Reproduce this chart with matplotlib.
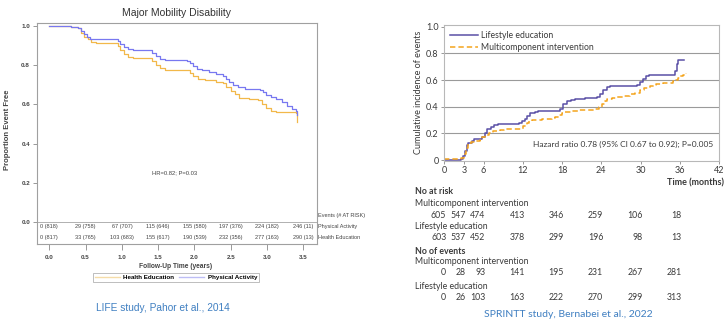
import matplotlib
matplotlib.use("Agg")
import matplotlib.pyplot as plt
import matplotlib.transforms as mtransforms

# ---- LIFE study (left) ----
life_ticks = [0.0, 0.5, 1.0, 1.5, 2.0, 2.5, 3.0, 3.5]
pa_t = [0.0, 0.12, 0.30, 0.40, 0.44, 0.48, 0.52, 0.56, 0.62, 0.90, 0.94, 0.98, 1.03, 1.08,
        1.15, 1.38, 1.42, 1.47, 1.53, 1.60, 1.90, 1.94, 1.98, 2.03, 2.10, 2.20, 2.30, 2.40,
        2.44, 2.48, 2.53, 2.60, 2.70, 2.90, 2.94, 2.98, 3.05, 3.12, 3.20, 3.28, 3.35, 3.40, 3.42]
pa_s = [1.0, 0.997, 0.995, 0.99, 0.975, 0.96, 0.945, 0.935, 0.933, 0.933, 0.92, 0.905, 0.89, 0.882,
        0.878, 0.876, 0.86, 0.845, 0.832, 0.826, 0.822, 0.81, 0.795, 0.78, 0.775, 0.765, 0.755, 0.745,
        0.73, 0.715, 0.70, 0.688, 0.68, 0.675, 0.66, 0.645, 0.638, 0.625, 0.61, 0.59, 0.575, 0.568, 0.545]
he_t = [0.0, 0.12, 0.30, 0.40, 0.44, 0.48, 0.53, 0.58, 0.65, 0.90, 0.94, 0.98, 1.03, 1.08,
        1.15, 1.38, 1.42, 1.47, 1.53, 1.60, 1.90, 1.94, 1.98, 2.05, 2.15, 2.30, 2.40, 2.44,
        2.50, 2.56, 2.62, 2.75, 2.88, 2.93, 2.98, 3.05, 3.12, 3.40, 3.42]
he_s = [1.0, 0.997, 0.995, 0.99, 0.965, 0.945, 0.93, 0.918, 0.912, 0.91, 0.895, 0.875, 0.855, 0.84,
        0.836, 0.834, 0.82, 0.80, 0.785, 0.776, 0.774, 0.76, 0.745, 0.73, 0.722, 0.715, 0.71, 0.69,
        0.665, 0.65, 0.632, 0.625, 0.62, 0.60, 0.58, 0.568, 0.558, 0.555, 0.51]
pa_risk = ["0 (818)", "29 (758)", "67 (707)", "115 (646)", "155 (580)", "197 (376)", "224 (182)", "246 (11)"]
he_risk = ["0 (817)", "33 (765)", "103 (683)", "155 (617)", "190 (539)", "232 (356)", "277 (163)", "290 (13)"]

# ---- SPRINTT study (right) ----
spr_ticks = [0, 3, 6, 12, 18, 24, 30, 36, 42]
risk_months = [0, 3, 6, 12, 18, 24, 30, 36]
le_t = [0, 1.0, 2.5, 2.9, 3.1, 3.4, 3.7, 4.2, 4.6, 5.4, 5.8, 6.2, 6.6, 7.1, 7.6, 8.2, 10.9, 11.4,
        11.9, 12.3, 12.7, 13.1, 13.8, 14.4, 17.2, 17.7, 18.2, 18.7, 19.3, 20.0, 21.5, 22.4, 23.3,
        23.8, 24.3, 24.8, 25.4, 27.0, 29.4, 29.9, 30.4, 30.9, 31.3, 34.9, 35.3, 35.6, 35.7, 36.7]
le_c = [0, 0.003, 0.008, 0.03, 0.07, 0.11, 0.13, 0.145, 0.155, 0.158, 0.175, 0.205, 0.23, 0.25,
        0.262, 0.267, 0.268, 0.275, 0.29, 0.31, 0.33, 0.35, 0.36, 0.367, 0.37, 0.385, 0.42, 0.44,
        0.45, 0.457, 0.462, 0.467, 0.475, 0.495, 0.525, 0.545, 0.553, 0.556, 0.56, 0.585, 0.61,
        0.632, 0.637, 0.637, 0.67, 0.72, 0.75, 0.75]
mi_t = [0, 2.0, 2.6, 3.0, 3.3, 3.6, 4.1, 4.8, 5.4, 5.8, 6.2, 6.8, 7.5, 8.5, 9.1, 11.6, 12.1, 12.6,
        13.0, 13.4, 15.0, 15.9, 16.5, 16.9, 17.5, 18.0, 18.4, 19.5, 20.4, 22.9, 23.6, 24.1, 24.5,
        24.9, 25.7, 26.4, 27.5, 28.4, 29.2, 29.9, 30.6, 31.4, 32.0, 32.4, 33.5, 34.4, 35.0, 35.4,
        35.8, 36.1, 36.5, 36.9]
mi_c = [0.005, 0.01, 0.017, 0.045, 0.09, 0.12, 0.135, 0.145, 0.15, 0.17, 0.19, 0.203, 0.215,
        0.225, 0.23, 0.232, 0.255, 0.275, 0.29, 0.3, 0.305, 0.308, 0.318, 0.325, 0.337, 0.355,
        0.362, 0.37, 0.375, 0.382, 0.395, 0.42, 0.445, 0.455, 0.465, 0.47, 0.48, 0.492, 0.505,
        0.523, 0.54, 0.555, 0.565, 0.57, 0.575, 0.58, 0.59, 0.6, 0.615, 0.63, 0.64, 0.65]
mi_risk = [605, 547, 474, 413, 346, 259, 106, 18]
le_risk = [603, 537, 452, 378, 299, 196, 98, 13]
mi_events = [0, 28, 93, 141, 195, 231, 267, 281]
le_events = [0, 26, 103, 163, 222, 270, 299, 313]

W, H = 726, 320
fig = plt.figure(figsize=(W / 100, H / 100), dpi=100)
caption_color = "#3f7fc1"


def fx(px):
    return px / W


def fy(py):
    return 1 - py / H


# ---------------- left panel ----------------
sans = ["Liberation Sans", "DejaVu Sans"]
ax1 = fig.add_axes([fx(37), fy(244), fx(317) - fx(37), fy(23) - fy(244)])
blue = "#7878f0"
yellow = "#f2b84a"
ax1.plot(he_t, he_s, drawstyle="steps-post", color=yellow, lw=0.9)
ax1.plot(pa_t, pa_s, drawstyle="steps-post", color=blue, lw=0.9)
ax1.axhline(0, color="#b0b0b0", lw=0.7)
ax1.set_xlim(-0.17, 3.689)
ax1.set_ylim(-0.112, 1.014)
ax1.set_yticks([0.0, 0.2, 0.4, 0.6, 0.8, 1.0])
ax1.set_yticklabels(["0.0", "0.2", "0.4", "0.6", "0.8", "1.0"], family=sans,
                    fontsize=4.5, fontweight="bold", color="#444444")
ax1.set_xticks(life_ticks)
ax1.set_xticklabels(["%.1f" % t for t in life_ticks], family=sans,
                    fontsize=4.5, fontweight="bold", color="#444444")
ax1.tick_params(axis="both", direction="out", length=3, width=0.6, color="#888888", pad=2)
ax1.tick_params(axis="x", length=4, pad=4)
for s in ax1.spines.values():
    s.set_color("#a0a0a0")
    s.set_linewidth(0.8)

for t, a, b in zip(life_ticks, pa_risk, he_risk):
    ax1.text(t, -0.024, a, ha="center", va="center", fontsize=4, color="#444444", family=sans)
    ax1.text(t, -0.078, b, ha="center", va="center", fontsize=4, color="#444444", family=sans)
tr1 = mtransforms.blended_transform_factory(ax1.transAxes, ax1.transData)
ax1.text(1.005, 0.031, "Events (# AT RISK)", transform=tr1, ha="left", va="center",
         fontsize=4, color="#444444", family=sans)
ax1.text(1.005, -0.024, "Physical Activity", transform=tr1, ha="left", va="center",
         fontsize=4, color="#444444", family=sans)
ax1.text(1.005, -0.078, "Health Education", transform=tr1, ha="left", va="center",
         fontsize=4, color="#444444", family=sans)
ax1.text(1.73, 0.25, "HR=0.82; P=0.03", ha="center", va="center", fontsize=4.2,
         color="#444444", family=sans)

fig.text(fx(177), fy(12.5), "Major Mobility Disability", ha="center", va="center",
         fontsize=7.5, color="#333333", family=sans)
fig.text(fx(8), fy(130), "Proportion Event Free", rotation=90, ha="center", va="center",
         fontsize=5.5, fontweight="bold", color="#444444", family=sans)
fig.text(fx(176), fy(266), "Follow-Up Time (years)", ha="center", va="center",
         fontsize=4.8, fontweight="bold", color="#444444", family=sans)

h1, = ax1.plot([], [], color="#f5dca8", lw=1.0)
h2, = ax1.plot([], [], color="#bdbdf5", lw=1.0)
leg = fig.legend([h1, h2], ["Health Education", "Physical Activity"], loc="center",
                 bbox_to_anchor=(fx(176), fy(277.5)), ncol=2, frameon=True, fancybox=False,
                 edgecolor="#a0a0a0", handlelength=4, handletextpad=0.6, columnspacing=0.8,
                 borderpad=0.25, prop={"family": sans, "size": 4.5, "weight": "bold"})
leg.get_frame().set_linewidth(0.6)
fig.text(fx(162.5), fy(308), "LIFE study, Pahor et al., 2014", ha="center", va="center",
         fontsize=7.3, color=caption_color, family=sans)

# ---------------- right panel ----------------
rs = ["Lato", "DejaVu Sans"]
tc = "#3a3a3a"
ax2 = fig.add_axes([fx(444.3), fy(160.7), fx(719) - fx(444.3), fy(24.7) - fy(160.7)])
purple = "#5a50a6"
orange = "#f4a41c"
ax2.plot(le_t, le_c, drawstyle="steps-post", color=purple, lw=1.1, label="Lifestyle education")
ax2.plot(mi_t, mi_c, drawstyle="steps-post", color=orange, lw=1.1, ls=(0, (3.5, 2)),
         label="Multicomponent intervention")
for g in [0.2, 0.4, 0.6, 0.8]:
    ax2.axhline(g, color="#9a9a9a", lw=0.8, zorder=0)
ax2.set_xlim(0, 42)
ax2.set_ylim(-0.005, 1.015)
ax2.set_xticks(spr_ticks)
ax2.set_xticklabels([str(t) for t in spr_ticks], family=rs, fontsize=6.5, color=tc)
ax2.set_yticks([0, 0.2, 0.4, 0.6, 0.8, 1.0])
ax2.set_yticklabels(["0", "0.2", "0.4", "0.6", "0.8", "1.0"], family=rs, fontsize=6.5, color=tc)
ax2.tick_params(axis="both", direction="out", length=2.5, width=0.6, color="#888888", pad=1.5)
for s in ax2.spines.values():
    s.set_color("#b8b8b8")
    s.set_linewidth(0.8)
ax2.legend(loc="upper left", bbox_to_anchor=(0.0, 1.0), frameon=False, handlelength=3.2,
           handletextpad=0.4, labelspacing=0.35, borderaxespad=0.3,
           prop={"family": rs, "size": 6.2}, labelcolor=tc)
ax2.text(0.98, 0.12, "Hazard ratio 0.78 (95% CI 0.67 to 0.92); P=0.005", transform=ax2.transAxes,
         ha="right", va="center", fontsize=6.0, color=tc, family=rs)
fig.text(fx(418), fy(92), "Cumulative incidence of events", rotation=90, ha="center",
         va="center", fontsize=6.5, color=tc, family=rs)
fig.text(fx(724), fy(182.7), "Time (months)", ha="right", va="center", fontsize=6.5,
         fontweight="bold", color=tc, family=rs)

tr2 = mtransforms.blended_transform_factory(ax2.transData, fig.transFigure)
rows = [
    ("No at risk", 191.7, True, None),
    ("Multicomponent intervention", 204, False, mi_risk),
    ("Lifestyle education", 226.7, False, le_risk),
    ("No of events", 251, True, None),
    ("Multicomponent intervention", 261.7, False, mi_events),
    ("Lifestyle education", 286.7, False, le_events),
]
for label, ypx, bold, vals in rows:
    fig.text(fx(415), fy(ypx), label, ha="left", va="center", fontsize=6.3, color=tc,
             fontweight="bold" if bold else "normal", family=rs)
    if vals is not None:
        for m, v in zip(risk_months, vals):
            ax2.text(m + 0.3, fy(ypx + 11), str(v), transform=tr2, ha="right", va="center",
                     fontsize=6.3, color=tc, family=rs)

fig.text(fx(568), fy(314.3), "SPRINTT study, Bernabei et al., 2022", ha="center", va="center",
         fontsize=7.5, color=caption_color, family=rs)

fig.savefig("out.png", dpi=100)
